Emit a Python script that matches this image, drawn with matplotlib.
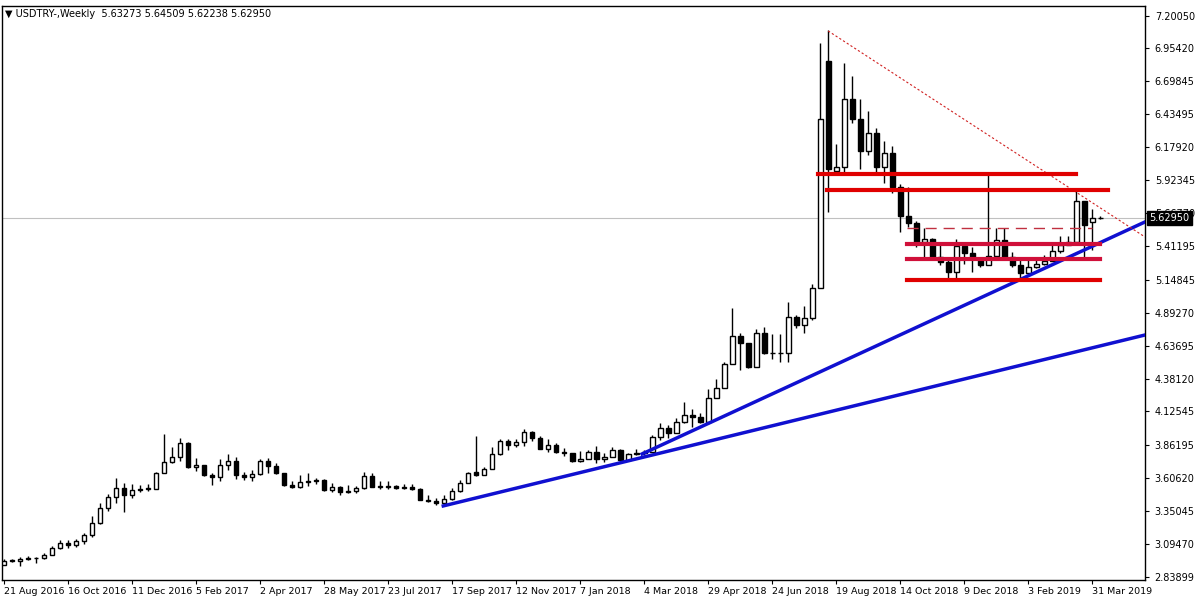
import matplotlib
matplotlib.use("Agg")
import matplotlib.pyplot as plt
import numpy as np

close = [2.966,2.966,2.981,2.989,2.984,3.010,3.064,3.101,3.090,3.119,3.165,3.256,3.373,3.458,3.528,3.479,3.515,3.525,3.525,3.650,
         3.730,3.769,3.878,3.696,3.707,3.634,3.614,3.707,3.738,3.634,3.619,3.640,3.741,3.704,3.645,3.556,3.541,3.577,3.585,3.591,
         3.513,3.541,3.500,3.510,3.528,3.624,3.541,3.541,3.544,3.533,3.541,3.520,3.440,3.430,3.417,3.443,3.507,3.567,3.645,3.630,
         3.676,3.795,3.894,3.867,3.888,3.964,3.917,3.836,3.867,3.811,3.805,3.738,3.754,3.811,3.754,3.774,3.826,3.748,3.795,3.805,
         3.813,3.925,3.995,3.956,4.046,4.101,4.080,4.046,4.233,4.311,4.492,4.713,4.656,4.474,4.733,4.578,4.583,4.578,4.858,4.796,
         4.850,5.083,6.397,6.013,6.030,6.553,6.397,6.153,6.289,6.029,6.133,5.873,5.648,5.589,5.446,5.464,5.329,5.290,5.212,5.412,
         5.360,5.317,5.267,5.334,5.457,5.324,5.267,5.205,5.247,5.270,5.296,5.373,5.418,5.446,5.760,5.575,5.633,5.6295]
high = [2.979,2.975,2.997,3.002,2.997,3.028,3.080,3.126,3.126,3.136,3.183,3.313,3.416,3.484,3.608,3.572,3.562,3.554,3.559,3.657,
        3.951,3.852,3.919,3.888,3.764,3.707,3.645,3.756,3.797,3.774,3.657,3.670,3.754,3.761,3.727,3.632,3.583,3.632,3.650,3.606,
        3.598,3.572,3.546,3.554,3.546,3.657,3.650,3.585,3.585,3.554,3.562,3.559,3.528,3.476,3.450,3.476,3.528,3.593,3.657,3.935,
        3.696,3.852,3.909,3.914,3.909,3.987,3.971,3.935,3.909,3.878,3.839,3.800,3.816,3.826,3.857,3.800,3.852,3.831,3.805,3.836,
        3.826,3.941,4.038,4.018,4.073,4.197,4.143,4.116,4.298,4.376,4.513,4.930,4.733,4.660,4.764,4.780,4.728,4.728,4.977,4.878,
        4.946,5.117,6.988,7.092,6.203,6.837,6.734,6.553,6.464,6.327,6.231,6.190,5.894,5.873,5.607,5.550,5.474,5.438,5.309,5.464,
        5.412,5.402,5.329,5.964,5.550,5.550,5.368,5.309,5.303,5.321,5.342,5.420,5.490,5.490,5.848,5.757,5.697,5.64509]
low = [2.932,2.955,2.927,2.971,2.945,2.976,3.017,3.054,3.062,3.074,3.098,3.152,3.248,3.354,3.412,3.347,3.455,3.500,3.510,3.541,
       3.645,3.727,3.743,3.689,3.665,3.624,3.554,3.585,3.670,3.601,3.593,3.585,3.632,3.650,3.640,3.546,3.528,3.533,3.549,3.562,
       3.507,3.502,3.479,3.494,3.494,3.525,3.536,3.520,3.523,3.520,3.523,3.515,3.437,3.424,3.401,3.412,3.437,3.500,3.567,3.620,
       3.637,3.696,3.787,3.826,3.852,3.857,3.899,3.832,3.813,3.805,3.779,3.733,3.733,3.754,3.723,3.735,3.769,3.743,3.743,3.785,
       3.787,3.821,3.904,3.917,3.956,4.038,4.007,4.038,4.028,4.228,4.306,4.500,4.448,4.461,4.469,4.573,4.536,4.513,4.513,4.772,
       4.738,4.837,5.091,5.679,5.977,5.977,6.366,6.009,6.122,5.988,5.904,5.822,5.519,5.562,5.407,5.324,5.324,5.265,5.161,5.161,
       5.272,5.208,5.251,5.272,5.324,5.303,5.251,5.158,5.208,5.239,5.265,5.311,5.355,5.428,5.420,5.317,5.380,5.62238]
first_open = 2.934
open_gaps = {59: 3.655, 103: 6.848, 104: 5.998, 136: 5.595, 137: 5.63273}

y_ticks = [7.20050,6.95420,6.69845,6.43495,6.17920,5.92345,5.66770,5.41195,5.14845,4.89270,4.63695,4.38120,4.12545,3.86195,3.60620,3.35045,3.09470,2.83899]
x_tick_labels = ["21 Aug 2016","16 Oct 2016","11 Dec 2016","5 Feb 2017","2 Apr 2017","28 May 2017","23 Jul 2017","17 Sep 2017",
                 "12 Nov 2017","7 Jan 2018","4 Mar 2018","29 Apr 2018","24 Jun 2018","19 Aug 2018","14 Oct 2018","9 Dec 2018",
                 "3 Feb 2019","31 Mar 2019"]

blue_lines = [((54.9, 3.391), (142.6, 4.720)), ((79.75, 3.795), (142.6, 5.599))]
red_dotted = ((103.0, 7.084), (142.6, 5.482))
red_levels = [(5.972, 101.75, 134.0, "#e00000"), (5.845, 102.9, 138.0, "#e00000"),
              (5.425, 112.8, 137.0, "#d0103a"), (5.309, 112.8, 137.0, "#d0103a"), (5.146, 112.8, 137.0, "#e00000")]
dashed_level = (5.550, 112.8, 136.0)
bid = 5.62950

n = len(close)
opens = [first_open] + close[:-1]
for k, v in open_gaps.items():
    opens[k] = v
x = np.arange(n)

fig = plt.figure(figsize=(12, 6), dpi=100)
ax = fig.add_axes([2/1200, 20/600, 1143/1200, 574/600])
ax.set_xlim(-0.25, 142.6)
ax.set_ylim(2.815, 7.278)

ax.axhline(bid, color="#c0c0c0", lw=0.8, zorder=0)

w = 0.6
for i in range(n):
    o, c, h, l = opens[i], close[i], high[i], low[i]
    ax.vlines(x[i], l, h, color="black", lw=1, zorder=2)
    bot, top = min(o, c), max(o, c)
    hgt = max(top - bot, 0.004)
    face = "white" if c >= o else "black"
    ax.bar(x[i], hgt, bottom=bot, width=w, facecolor=face, edgecolor="black", lw=1, zorder=3)

for (a, b) in blue_lines:
    ax.plot([a[0], b[0]], [a[1], b[1]], color="#1010d0", lw=2.5, zorder=4)
ax.plot([red_dotted[0][0], red_dotted[1][0]], [red_dotted[0][1], red_dotted[1][1]],
        color="#d02020", lw=0.8, ls=(0, (2, 2)), zorder=4)
for (lv, a, b, col) in red_levels:
    ax.plot([a, b], [lv, lv], color=col, lw=3, zorder=5)
ax.plot([dashed_level[1], dashed_level[2]], [dashed_level[0]] * 2, color="#c03040", lw=1, ls=(0, (8, 5)), zorder=4)

ax.yaxis.tick_right()
ax.set_yticks(y_ticks)
ax.set_yticklabels([f"{v:.5f}" for v in y_ticks], fontsize=7)
ax.tick_params(axis="y", length=3, pad=4)
xt = np.arange(0, 8 * len(x_tick_labels), 8)
ax.set_xticks(xt)
ax.set_xticklabels(x_tick_labels, fontsize=6.8, ha="left")
ax.tick_params(axis="x", length=3, pad=2)
for s in ax.spines.values():
    s.set_linewidth(1)

ax.text(1.004, bid, f"{bid:.5f}", transform=ax.get_yaxis_transform(), fontsize=7, color="white",
        va="center", ha="left", bbox=dict(boxstyle="square,pad=0.25", fc="black", ec="black"), zorder=10, clip_on=False)
ax.text(0.003, 0.995, "\u25bc USDTRY-,Weekly  5.63273 5.64509 5.62238 5.62950", transform=ax.transAxes,
        fontsize=7, va="top", ha="left")

fig.savefig("out.png", dpi=100)
